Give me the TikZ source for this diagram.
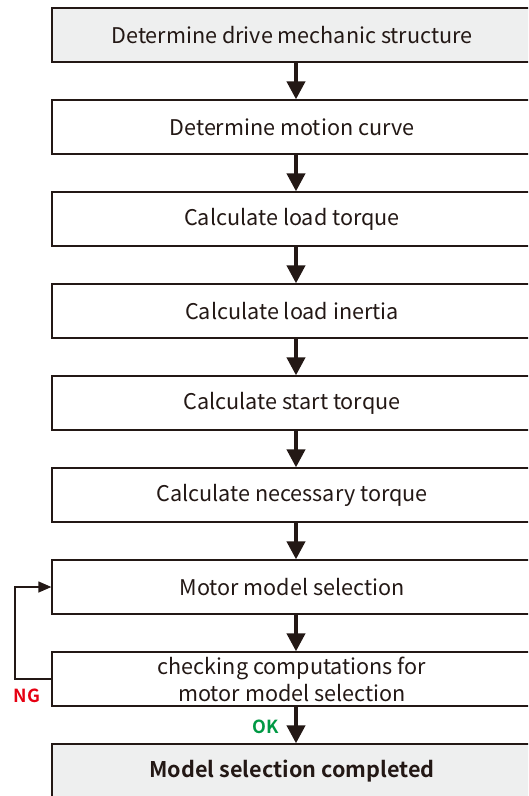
\documentclass[tikz,border=0pt]{standalone}
\usepackage{fontspec}
\setmainfont{Noto Sans CJK JP}[BoldFont={Noto Sans CJK JP Bold}]
\usetikzlibrary{arrows.meta}
\definecolor{ink}{HTML}{231815}
\definecolor{boxgray}{HTML}{EEEFEF}
\definecolor{ngred}{HTML}{E60012}
\definecolor{okgreen}{HTML}{009944}
\tikzset{
  stepbox/.style={draw=ink, line width=1.3pt, minimum width=480pt, minimum height=54pt,
    inner sep=0pt, text=ink, font=\fontsize{21.6pt}{27pt}\selectfont, align=center},
  grayfill/.style={fill=boxgray},
  flow/.style={draw=ink, line width=4pt, -{Triangle[width=18pt,length=18pt]}},
  back/.style={draw=ink, line width=1.3pt, -{Triangle[width=11pt,length=13pt]}},
  tag/.style={font=\fontsize{18pt}{18pt}\selectfont\bfseries}
}
\begin{document}
\begin{tikzpicture}[x=1pt,y=-1pt]
\useasboundingbox (0,0) rectangle (528,796);
\clip (0,0) rectangle (528,796);
\fill[white] (0,0) rectangle (528,796);
\node[stepbox,grayfill] (b1) at (292,35) {Determine drive mechanic structure};
\node[stepbox] (b2) at (292,127) {Determine motion curve};
\node[stepbox] (b3) at (292,219) {Calculate load torque};
\node[stepbox] (b4) at (292,311) {Calculate load inertia};
\node[stepbox] (b5) at (292,403) {Calculate start torque};
\node[stepbox] (b6) at (292,495) {Calculate necessary torque};
\node[stepbox] (b7) at (292,587) {Motor model selection};
\node[stepbox] (b8) at (292,679) {checking computations for\\motor model selection};
\node[stepbox,grayfill,font=\fontsize{21.6pt}{27pt}\selectfont\bfseries] (b9) at (292,771) {Model selection completed};
\foreach \a/\b in {b1/b2,b2/b3,b3/b4,b4/b5,b5/b6,b6/b7,b7/b8,b8/b9}
  \draw[flow] ([xshift=4pt]\a.south) -- ([xshift=4pt]\b.north);
\coordinate (lp) at (15,679);
\draw[back] (b8.west) -- (lp) |- (b7.west);
\node[tag,text=ngred] (ng) at (27,696) {NG};
\node[tag,text=okgreen] (ok) at (266,727) {OK};
\end{tikzpicture}
\end{document}
